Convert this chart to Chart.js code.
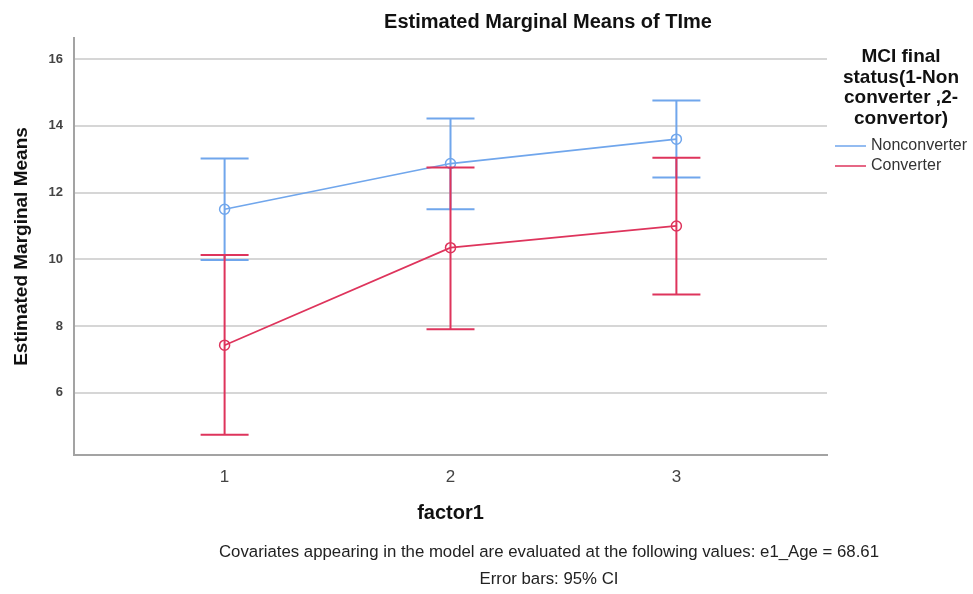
<!DOCTYPE html>
<html>
<head>
<meta charset="utf-8">
<script src="https://cdn.jsdelivr.net/npm/chart.js@4"></script>
<style>
  html, body { margin: 0; padding: 0; background: #fff; }
  #wrap { width: 973px; height: 594px; }
</style>
</head>
<body>
<div id="wrap"><canvas id="chart" width="973" height="594"></canvas></div>
<script>
// data
const categories = [1, 2, 3];
const nonconverterMean = [11.50, 12.87, 13.60];
const nonconverterLower = [9.98, 11.50, 12.45];
const nonconverterUpper = [13.02, 14.22, 14.76];
const converterMean = [7.43, 10.35, 11.00];
const converterLower = [4.75, 7.91, 8.95];
const converterUpper = [10.13, 12.75, 13.04];
const yTicks = [6, 8, 10, 12, 14, 16];
const xTicks = [1, 2, 3];

const legendTitle = ['MCI final', 'status(1-Non', 'converter ,2-', 'convertor)'];
const seriesNames = ['Nonconverter', 'Converter'];
const footnotes = [
    'Covariates appearing in the model are evaluated at the following values: e1_Age = 68.61',
    'Error bars: 95% CI'
];

const blue = 'rgb(112, 166, 236)';
const red = 'rgb(222, 52, 92)';
const FONT = '"Liberation Sans", Arial, sans-serif';

const errorBars = [
    { lower: nonconverterLower, upper: nonconverterUpper, color: blue },
    { lower: converterLower, upper: converterUpper, color: red }
];

// error bars with caps
const errorBarPlugin = {
    id: 'errorBars',
    afterDatasetsDraw(chart) {
        const ctx = chart.ctx;
        const xs = chart.scales.x, ys = chart.scales.y;
        ctx.save();
        ctx.lineWidth = 2;
        errorBars.forEach(eb => {
            ctx.strokeStyle = eb.color;
            categories.forEach((c, i) => {
                const x = xs.getPixelForValue(c);
                const y1 = ys.getPixelForValue(eb.lower[i]);
                const y2 = ys.getPixelForValue(eb.upper[i]);
                ctx.beginPath();
                ctx.moveTo(x, y1); ctx.lineTo(x, y2);
                ctx.moveTo(x - 24, y1); ctx.lineTo(x + 24, y1);
                ctx.moveTo(x - 24, y2); ctx.lineTo(x + 24, y2);
                ctx.stroke();
            });
        });
        ctx.restore();
    }
};

// title, legend and footnotes
const textPlugin = {
    id: 'texts',
    afterDraw(chart) {
        const ctx = chart.ctx;
        ctx.save();
        ctx.fillStyle = '#111';
        ctx.textAlign = 'center';
        ctx.textBaseline = 'middle';
        ctx.font = 'bold 20px ' + FONT;
        ctx.fillText('Estimated Marginal Means of TIme', 548, 22, 342);

        ctx.font = 'bold 19px ' + FONT;
        legendTitle.forEach((t, i) => {
            ctx.fillText(t, 901, 57 + i * 20.5, 126);
        });

        ctx.font = '16px ' + FONT;
        ctx.textAlign = 'left';
        ctx.fillStyle = '#333';
        [blue, red].forEach((col, i) => {
            const y = 146 + i * 20;
            ctx.strokeStyle = col;
            ctx.lineWidth = 1.5;
            ctx.beginPath();
            ctx.moveTo(835, y); ctx.lineTo(866, y);
            ctx.stroke();
            ctx.fillText(seriesNames[i], 871, y, 100);
        });

        ctx.textAlign = 'center';
        ctx.fillStyle = '#222';
        ctx.font = '16.8px ' + FONT;
        ctx.fillText(footnotes[0], 549, 552, 664);
        ctx.fillText(footnotes[1], 549, 579, 143);
        ctx.restore();
    }
};

new Chart(document.getElementById('chart'), {
    type: 'line',
    data: {
        datasets: [
            {
                label: seriesNames[0],
                data: categories.map((c, i) => ({ x: c, y: nonconverterMean[i] })),
                borderColor: blue,
                backgroundColor: 'transparent',
                borderWidth: 1.7,
                pointRadius: 5,
                pointBorderWidth: 1.5,
                pointBackgroundColor: 'transparent',
                pointBorderColor: blue
            },
            {
                label: seriesNames[1],
                data: categories.map((c, i) => ({ x: c, y: converterMean[i] })),
                borderColor: red,
                backgroundColor: 'transparent',
                borderWidth: 1.7,
                pointRadius: 5,
                pointBorderWidth: 1.5,
                pointBackgroundColor: 'transparent',
                pointBorderColor: red
            }
        ]
    },
    options: {
        responsive: false,
        animation: false,
        layout: { padding: { left: 0, right: 146, top: 38, bottom: 0 } },
        plugins: {
            legend: { display: false },
            tooltip: { enabled: false }
        },
        scales: {
            x: {
                type: 'linear',
                min: 1 / 3,
                max: 11 / 3,
                afterBuildTicks: s => { s.ticks = xTicks.map(v => ({ value: v })); },
                afterFit: s => { s.height = 139; },
                grid: { display: false, drawTicks: false },
                border: { color: '#a3a3a3', width: 2 },
                ticks: {
                    padding: 12,
                    color: '#444',
                    font: { family: FONT, size: 17 }
                },
                title: {
                    display: true,
                    text: 'factor1',
                    color: '#111',
                    font: { family: FONT, size: 20, weight: 'bold' },
                    padding: { top: 0, bottom: 69 }
                }
            },
            y: {
                min: 4.14,
                max: 16.63,
                afterBuildTicks: s => { s.ticks = yTicks.map(v => ({ value: v })); },
                afterFit: s => { s.width = 74; },
                grid: { color: '#d6d6d6', lineWidth: 2, drawTicks: false },
                border: { color: '#a3a3a3', width: 2 },
                ticks: {
                    padding: 11,
                    color: '#444',
                    font: { family: FONT, size: 13, weight: 'bold' }
                },
                title: {
                    display: true,
                    text: 'Estimated Marginal Means',
                    color: '#111',
                    font: { family: FONT, size: 19, weight: 'bold' },
                    padding: { top: 10.5, bottom: 0 }
                }
            }
        }
    },
    plugins: [errorBarPlugin, textPlugin]
});
</script>
</body>
</html>
